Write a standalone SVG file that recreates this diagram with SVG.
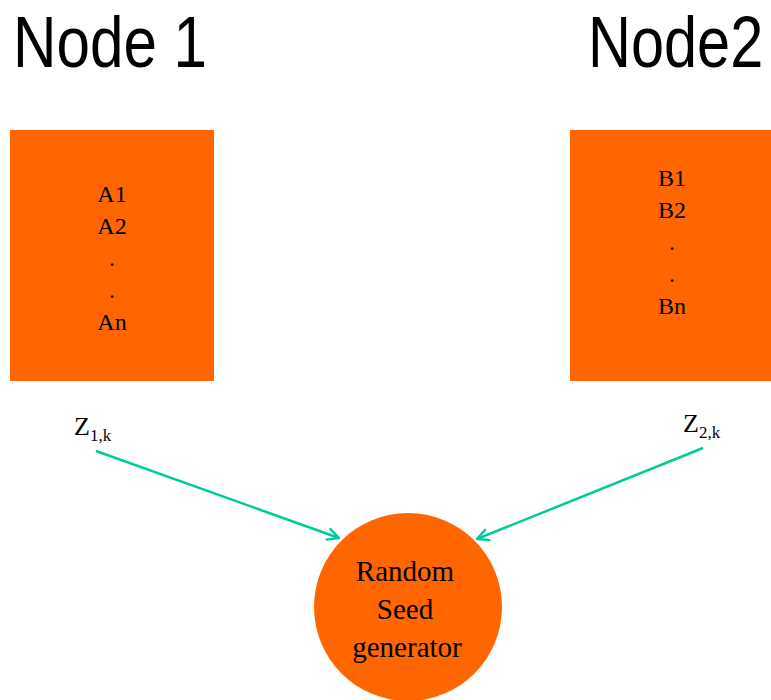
<svg xmlns="http://www.w3.org/2000/svg" width="771" height="700" viewBox="0 0 771 700">
<style>
.title{font-family:"Liberation Sans",Arial,sans-serif;font-size:72px;fill:#000}
.t{font-family:"Liberation Serif","Times New Roman",serif;font-size:24px;fill:#000;text-anchor:middle}
.c{font-family:"Liberation Serif","Times New Roman",serif;font-size:29px;fill:#000;text-anchor:middle}
.z{font-family:"Liberation Serif","Times New Roman",serif;font-size:26px;fill:#000}
.sub{font-size:17px}
.box{fill:#FF6600}
.edge{stroke:#00CC99;stroke-width:2.5;fill:none;marker-end:url(#arr)}
</style>
<defs>
<marker id="arr" viewBox="0 0 14 14" refX="13" refY="7" markerWidth="14" markerHeight="14" markerUnits="userSpaceOnUse" orient="auto">
<path d="M1,1 L13,7 L1,13" fill="none" stroke="#00CC99" stroke-width="2.4"/>
</marker>
</defs>
<rect width="771" height="700" fill="#fff"/>
<g id="title1"><text class="title" transform="translate(13,67) scale(0.836,1)">Node 1</text></g>
<g id="title2"><text class="title" transform="translate(588,67) scale(0.826,1)">Node2</text></g>
<g id="node1">
<rect class="box" x="10" y="130" width="204" height="251"/>
<text class="t" x="112" y="202">A1</text>
<text class="t" x="112" y="234">A2</text>
<text class="t" x="112" y="266">.</text>
<text class="t" x="112" y="298">.</text>
<text class="t" x="112" y="330">An</text>
</g>
<g id="node2">
<rect class="box" x="570" y="130" width="201" height="251"/>
<text class="t" x="672" y="186">B1</text>
<text class="t" x="672" y="218">B2</text>
<text class="t" x="672" y="250">.</text>
<text class="t" x="672" y="282">.</text>
<text class="t" x="672" y="314">Bn</text>
</g>
<g id="generator">
<circle cx="408" cy="607" r="94" fill="#FF6600"/>
<text class="c" x="405" y="581">Random</text>
<text class="c" x="405" y="619">Seed</text>
<text class="c" x="407" y="657">generator</text>
</g>
<g id="labels">
<text class="z" x="74" y="435">Z<tspan class="sub" dy="6">1,k</tspan></text>
<text class="z" x="683" y="432">Z<tspan class="sub" dy="6">2,k</tspan></text>
</g>
<g id="connectors">
<line class="edge" x1="96" y1="451" x2="339" y2="538"/>
<line class="edge" x1="703" y1="448" x2="477" y2="539"/>
</g>
</svg>
